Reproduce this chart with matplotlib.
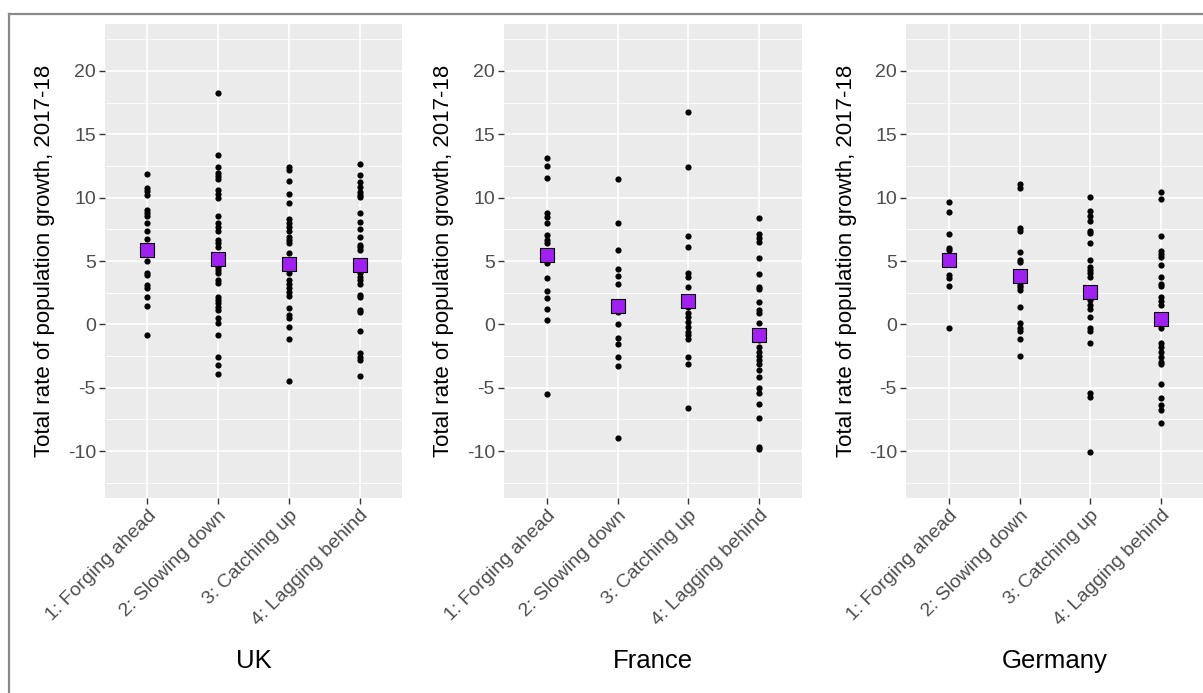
import matplotlib
matplotlib.use("Agg")
import matplotlib.pyplot as plt
from matplotlib.lines import Line2D

plt.rcParams["font.family"] = ["Liberation Sans", "DejaVu Sans"]

# category labels (x axis)
categories = ["1: Forging ahead", "2: Slowing down", "3: Catching up", "4: Lagging behind"]
countries = ["UK", "France", "Germany"]

# growth rates, one list per group
uk_forging = [11.84, 10.74, 10.53, 10.21, 9.03, 8.82, 8.58, 8.03, 7.39, 6.74, 6.2, 5.6,
              5.0, 4.03, 3.89, 3.1, 2.89, 2.13, 1.45, -0.82]
uk_slowing = [18.24, 13.39, 12.45, 11.92, 11.71, 11.47, 10.61, 10.26, 10.0, 8.58, 7.97,
              7.71, 7.39, 6.66, 6.39, 6.13, 5.4, 4.55, 4.29, 4.03, 3.5, 3.29, 2.18, 1.92,
              1.66, 1.34, 1.13, 0.47, 0.08, -0.82, -2.55, -3.24, -3.95]
uk_catching = [12.45, 12.18, 11.34, 10.26, 9.55, 8.29, 8.03, 7.71, 7.39, 6.92, 6.66, 6.45,
               5.66, 5.0, 4.55, 4.03, 3.5, 3.18, 2.84, 2.58, 2.24, 1.32, 0.74, 0.47, -0.18,
               -1.18, -4.47]
uk_lagging = [12.66, 11.79, 11.26, 10.82, 10.47, 10.21, 10.03, 8.76, 8.11, 7.53, 6.92, 6.26,
              6.08, 5.87, 4.82, 4.42, 4.03, 3.76, 3.5, 3.18, 2.32, 2.13, 1.13, 1.0, -0.53,
              -2.29, -2.55, -2.82, -4.08]

fr_forging = [13.1, 12.5, 11.55, 8.76, 8.5, 8.03, 7.05, 6.66, 6.39, 5.8, 4.87, 3.63, 2.66,
              2.05, 1.18, 0.34, -5.5]
fr_slowing = [11.47, 8.03, 5.84, 4.39, 3.82, 3.18, 1.0, 0.0, -1.1, -1.55, -2.55, -3.29, -9.0]
fr_catching = [16.74, 12.42, 6.97, 6.08, 4.03, 3.76, 2.92, 1.39, 0.87, 0.61, 0.21, -0.18,
               -0.58, -0.84, -1.18, -2.55, -3.13, -6.58]
fr_lagging = [8.42, 7.13, 6.84, 6.53, 5.26, 3.95, 2.97, 2.76, 1.79, 1.13, 0.87, 0.08, -0.6,
              -1.2, -1.76, -2.16, -2.5, -2.82, -3.13, -3.61, -4.13, -5.05, -5.45, -6.32,
              -7.42, -9.66, -9.87]

de_forging = [9.66, 8.89, 7.11, 6.0, 5.87, 5.34, 3.89, 3.63, 3.03, -0.32]
de_slowing = [11.05, 10.74, 7.63, 7.39, 5.68, 5.08, 4.92, 3.84, 3.1, 2.97, 2.71, 1.39, 0.13,
              -0.32, -0.5, -1.18, -2.5]
de_catching = [10.08, 8.97, 8.55, 8.18, 7.39, 7.18, 6.45, 5.08, 4.5, 4.29, 4.03, 3.71, 2.6,
               1.92, 1.53, 1.18, 0.55, -0.32, -0.5, -1.5, -5.39, -5.76, -10.1]
de_lagging = [10.47, 9.87, 6.97, 5.79, 5.55, 5.34, 4.66, 3.71, 3.18, 3.03, 2.13, 1.87, 1.53,
              0.45, -0.32, -1.5, -1.76, -2.16, -2.55, -2.95, -3.13, -4.74, -5.79, -6.37,
              -6.76, -7.76]

# group means (purple squares)
uk_means = [5.87, 5.18, 4.76, 4.71]
fr_means = [5.47, 1.47, 1.87, -0.87]
de_means = [5.08, 3.84, 2.58, 0.45]

y_ticks = [-10, -5, 0, 5, 10, 15, 20]
y_minor = [-12.5, -7.5, -2.5, 2.5, 7.5, 12.5, 17.5, 22.5]

groups = {
    "UK": [uk_forging, uk_slowing, uk_catching, uk_lagging],
    "France": [fr_forging, fr_slowing, fr_catching, fr_lagging],
    "Germany": [de_forging, de_slowing, de_catching, de_lagging],
}
means = {"UK": uk_means, "France": fr_means, "Germany": de_means}

W, H = 1203, 693
fig = plt.figure(figsize=(W / 100, H / 100), dpi=100)
fig.patch.set_facecolor("white")

# pixel boxes of the three panels (left, top, right, bottom)
panel_px = [(105, 24, 402, 498), (504, 24, 802, 498), (906, 24, 1204, 498)]

for country, (l, t, r, b) in zip(countries, panel_px):
    ax = fig.add_axes([l / W, 1 - b / H, (r - l) / W, (b - t) / H])
    ax.set_facecolor("#EBEBEB")
    for s in ax.spines.values():
        s.set_visible(False)

    x = list(range(1, len(categories) + 1))
    for xi, vals in zip(x, groups[country]):
        ax.scatter([xi] * len(vals), vals, s=20, color="black", zorder=3, linewidths=0)
    ax.scatter(x, means[country], marker="s", s=95, color="#A020F0",
               edgecolors="black", linewidths=0.8, zorder=4)

    ax.set_xlim(0.4, 4.6)
    ax.set_ylim(-13.7, 23.7)
    ax.set_xticks(x)
    ax.set_xticklabels(categories, rotation=45, ha="right", va="top",
                       rotation_mode="anchor", fontsize=14, color="#4D4D4D")
    ax.set_yticks(y_ticks)
    ax.set_yticklabels([str(v) for v in y_ticks], fontsize=14, color="#4D4D4D")
    ax.set_yticks(y_minor, minor=True)
    ax.tick_params(axis="both", which="major", length=4, width=1, color="#333333", pad=2.5)
    ax.tick_params(axis="y", which="minor", length=0)
    ax.grid(which="major", color="white", linewidth=1.2)
    ax.grid(which="minor", axis="y", color="white", linewidth=0.6)
    ax.set_axisbelow(True)

    # axis titles
    fig.text((l - 60) / W, 1 - ((t + b) / 2) / H, "Total rate of population growth, 2017-18",
             rotation=90, ha="center", va="center", fontsize=16, color="black")
    fig.text(((l + r) / 2) / W, 1 - 668 / H, country, ha="center", va="baseline",
             fontsize=18.5, color="black")

# screenshot frame
fig.add_artist(Line2D([9 / W, 9 / W], [0, 1 - 14 / H], color="#8A8A8A", linewidth=1.6))
fig.add_artist(Line2D([9 / W, 1], [1 - 14 / H, 1 - 14 / H], color="#8A8A8A", linewidth=1.6))

fig.savefig("out.png", dpi=100)
